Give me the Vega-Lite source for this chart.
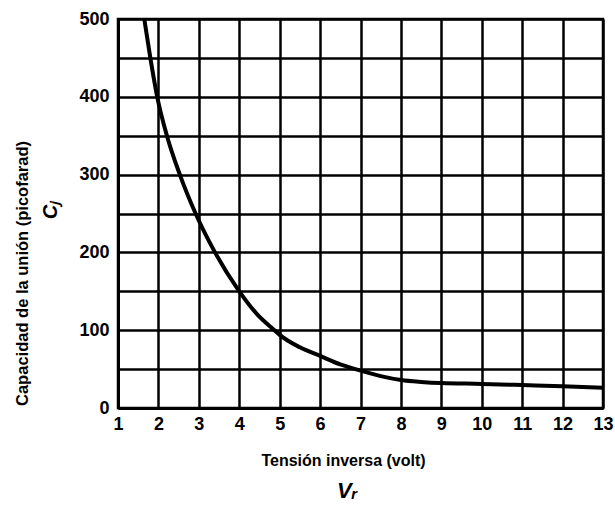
{
  "$schema": "https://vega.github.io/schema/vega-lite/v6.json",
  "width": 485,
  "height": 389,
  "autosize": {"type": "none"},
  "padding": {"left": 118, "top": 19, "right": 12, "bottom": 98},
  "background": "white",
  "config": {
    "view": {"stroke": "black", "strokeWidth": 2.5},
    "font": "Liberation Sans"
  },
  "data": {
    "values": [
      {"v": 1.65, "c": 500},
      {"v": 1.8, "c": 450},
      {"v": 1.97, "c": 400},
      {"v": 2.21, "c": 350},
      {"v": 2.53, "c": 300},
      {"v": 2.92, "c": 250},
      {"v": 3.4, "c": 200},
      {"v": 4.0, "c": 150},
      {"v": 4.45, "c": 120},
      {"v": 4.87, "c": 100},
      {"v": 5.0, "c": 94},
      {"v": 5.5, "c": 78},
      {"v": 6.0, "c": 67},
      {"v": 6.5, "c": 56},
      {"v": 7.0, "c": 48},
      {"v": 7.5, "c": 41},
      {"v": 8.0, "c": 36},
      {"v": 8.5, "c": 33.5},
      {"v": 9.0, "c": 32},
      {"v": 10.0, "c": 31},
      {"v": 11.0, "c": 29.5},
      {"v": 12.0, "c": 28},
      {"v": 13.0, "c": 26}
    ]
  },
  "layer": [
    {
      "mark": {"type": "line", "interpolate": "monotone", "color": "black", "strokeWidth": 4},
      "encoding": {
        "x": {
          "field": "v",
          "type": "quantitative",
          "scale": {"domain": [1, 13], "nice": false, "zero": false},
          "axis": {
            "values": [1, 2, 3, 4, 5, 6, 7, 8, 9, 10, 11, 12, 13],
            "grid": true,
            "gridColor": "black",
            "gridWidth": 2.5,
            "gridOpacity": 1,
            "domainColor": "black",
            "domainWidth": 3,
            "ticks": false,
            "labelPadding": 7,
            "labelFont": "Liberation Sans",
            "labelFontWeight": "bold",
            "labelFontSize": 18,
            "labelColor": "black",
            "labelFlush": false,
            "title": "Tensión inversa (volt)",
            "titleFont": "Liberation Sans",
            "titleFontSize": 16,
            "titleFontWeight": "bold",
            "titleColor": "black",
            "titleX": 225,
            "titleY": 52,
            "titleBaseline": "middle",
            "titleAlign": "center"
          }
        },
        "y": {
          "field": "c",
          "type": "quantitative",
          "scale": {"domain": [0, 500], "nice": false},
          "axis": {
            "values": [0, 50, 100, 150, 200, 250, 300, 350, 400, 450, 500],
            "labelExpr": "datum.value % 100 === 0 ? datum.label : ''",
            "grid": true,
            "gridColor": "black",
            "gridWidth": 2.5,
            "gridOpacity": 1,
            "domainColor": "black",
            "domainWidth": 3,
            "ticks": false,
            "labelPadding": 9,
            "labelFont": "Liberation Sans",
            "labelFontWeight": "bold",
            "labelFontSize": 18,
            "labelColor": "black",
            "labelFlush": false,
            "title": "Capacidad de la unión (picofarad)",
            "titleFont": "Liberation Sans",
            "titleFontSize": 16.5,
            "titleFontWeight": "bold",
            "titleColor": "black",
            "titleAngle": -90,
            "titleX": -96,
            "titleY": 254,
            "titleAlign": "center",
            "titleBaseline": "middle"
          }
        }
      }
    },
    {
      "mark": {"type": "line", "strokeOpacity": 0},
      "encoding": {
        "x": {
          "field": "v",
          "type": "quantitative",
          "scale": {"domain": [1, 13], "nice": false, "zero": false},
          "axis": {
            "orient": "bottom",
            "labels": false,
            "ticks": false,
            "domain": false,
            "grid": false,
            "title": "Vᵣ",
            "titleFont": "Liberation Sans",
            "titleFontSize": 22,
            "titleFontWeight": "bold",
            "titleFontStyle": "italic",
            "titleColor": "black",
            "titleX": 229,
            "titleY": 82,
            "titleAlign": "center",
            "titleBaseline": "middle"
          }
        },
        "y": {
          "field": "c",
          "type": "quantitative",
          "scale": {"domain": [0, 500], "nice": false},
          "axis": {
            "orient": "left",
            "labels": false,
            "ticks": false,
            "domain": false,
            "grid": false,
            "title": "Cⱼ",
            "titleFont": "Liberation Sans",
            "titleFontSize": 20,
            "titleFontWeight": "bold",
            "titleFontStyle": "italic",
            "titleColor": "black",
            "titleAngle": -90,
            "titleX": -68,
            "titleY": 191,
            "titleAlign": "center",
            "titleBaseline": "middle"
          }
        }
      }
    }
  ],
  "resolve": {"scale": {"x": "independent", "y": "independent"}}
}
